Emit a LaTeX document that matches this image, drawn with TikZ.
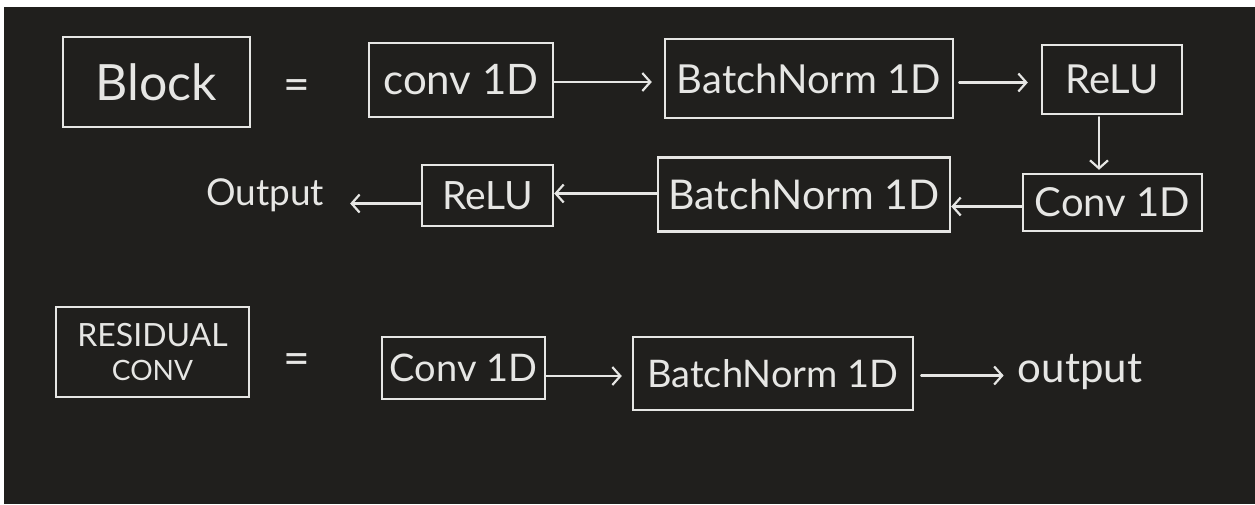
\documentclass[tikz,border=0pt]{standalone}
\usepackage{fontspec}
\setmainfont{Lato}
\usetikzlibrary{arrows.meta}
\definecolor{bgdark}{HTML}{201F1D}
\definecolor{fg}{HTML}{E6E6E4}
\newcommand\myfs[1]{\fontsize{#1}{#1}\selectfont}
\tikzset{
  box/.style={draw=fg, line width=2.4pt, inner sep=0pt, text=fg},
  lbl/.style={inner sep=0pt, text=fg},
  arr/.style={draw=fg, line width=2.2pt, line cap=round,
    -{Straight Barb[length=8pt,width=18pt,line width=2.2pt]}}
}
\begin{document}
\begin{tikzpicture}[x=1pt,y=1pt]
\useasboundingbox (0,0) rectangle (1255,-504);
\fill[white] (0,0) rectangle (1255,-504);
\fill[bgdark] (4,-7) rectangle (1255,-504);

% row 1
\node[box, minimum width=187pt, minimum height=90pt] (block) at (156.5,-82) {\myfs{50}Block};
\node[lbl] (eq1) at (297,-90) {\myfs{46}=};
\node[box, minimum width=184pt, minimum height=74pt] (conv1) at (461,-80) {\myfs{42}conv 1D};
\node[box, minimum width=288pt, minimum height=79pt] (bn1) at (809,-78.5) {\myfs{40}BatchNorm 1D};
\node[box, minimum width=140pt, minimum height=69pt] (relu1) at (1112,-79.5) {\myfs{40}ReLU};

% row 2
\node[box, minimum width=179pt, minimum height=57pt] (conv2) at (1112.5,-202.5) {\myfs{40}Conv 1D};
\node[box, minimum width=292pt, minimum height=74pt] (bn2) at (804,-194.5) {\myfs{41}BatchNorm 1D};
\node[box, minimum width=131pt, minimum height=61pt] (relu2) at (487.5,-195.5) {\myfs{39}ReLU};
\node[lbl] (out1) at (265,-195) {\myfs{37}Output};

% row 3
\node[box, minimum width=193pt, minimum height=90pt, align=center] (res) at (152.5,-352)
  {\myfs{32}RESIDUAL\\[12pt]\myfs{28}CONV};
\node[lbl] (eq2) at (297,-364) {\myfs{46}=};
\node[box, minimum width=163pt, minimum height=62pt] (conv3) at (463.5,-368) {\myfs{38}Conv 1D};
\node[box, minimum width=280pt, minimum height=73pt] (bn3) at (773,-373.5) {\myfs{38}BatchNorm 1D};
\node[lbl] (out2) at (1080,-372) {\myfs{42}output};

% connectors
\draw[arr, shorten >=12pt] ([yshift=-2pt]conv1.east) -- ([yshift=-2pt]conv1.east -| bn1.west);
\draw[arr, shorten <=5pt, shorten >=13pt] ([yshift=-4pt]bn1.east) -- ([yshift=-4pt]bn1.east -| relu1.west);
\draw[arr, shorten <=2pt, shorten >=3pt] ([xshift=-13pt]relu1.south) -- ([xshift=-13pt]relu1.south |- conv2.north);
\draw[arr] ([yshift=-4pt]conv2.west) -- ([yshift=-4pt]conv2.west -| bn2.east);
\draw[arr] ([yshift=1pt]bn2.west) -- ([yshift=1pt]bn2.west -| relu2.east);
\draw[arr, shorten >=26pt] ([yshift=-8pt]relu2.west) -- ([yshift=-8pt]relu2.west -| out1.east);
\draw[arr, shorten >=10pt] ([yshift=-8pt]conv3.east) -- ([yshift=-8pt]conv3.east -| bn3.west);
\draw[arr, shorten <=7pt, shorten >=14pt] ([yshift=-2pt]bn3.east) -- ([yshift=-2pt]bn3.east -| out2.west);
\end{tikzpicture}
\end{document}
